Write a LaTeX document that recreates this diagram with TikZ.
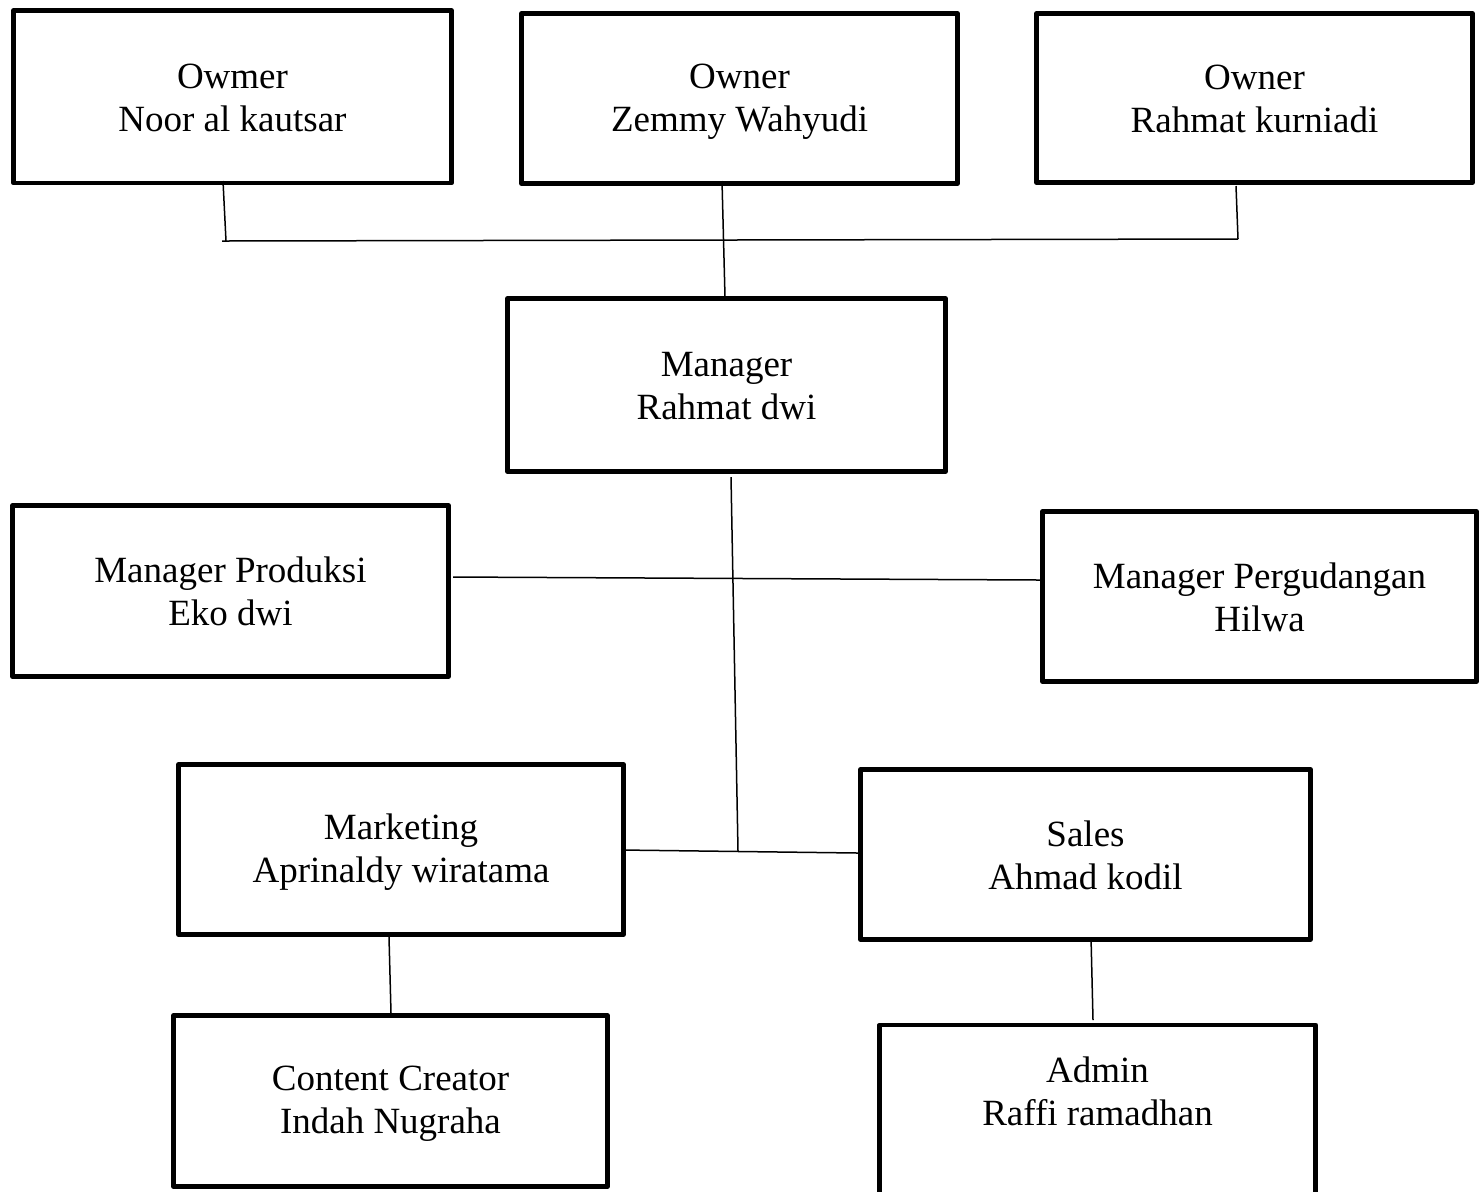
\documentclass[tikz,border=0pt]{standalone}
\usepackage{fontspec}
\setmainfont{Liberation Serif}
\newcommand\lnstrut{\rule[-2pt]{0pt}{17pt}}
\begin{document}
\begin{tikzpicture}[x=0.5pt,y=-0.5pt,
  box/.style={draw=black, line width=2.35pt, line join=round, inner sep=0pt,
    align=center, font=\fontsize{18.5}{21.5}\selectfont},
  txt/.style={inner sep=0pt, align=center, font=\fontsize{18.5}{21.5}\selectfont},
  link/.style={draw=black, line width=0.75pt}]
\useasboundingbox (0,0) rectangle (1481,1191);
\clip (0,0) rectangle (1481,1191);
% boxes
\node[box, minimum width=219pt, minimum height=86.25pt] (o1) at (232.5,96.75) {\lnstrut Owmer\\\lnstrut Noor al kautsar};
\node[box, minimum width=218pt, minimum height=85pt] (o2) at (739.5,98.5) {\lnstrut Owner\\\lnstrut Zemmy Wahyudi};
\node[box, minimum width=218pt, minimum height=84.5pt] (o3) at (1254.5,98) {\lnstrut Owner\\\lnstrut Rahmat kurniadi};
\node[box, minimum width=219pt, minimum height=86.5pt] (mgr) at (726.5,385) {\lnstrut Manager\\\lnstrut Rahmat dwi};
\node[box, minimum width=218pt, minimum height=85.5pt] (prod) at (230.5,591) {\lnstrut Manager Produksi\\\lnstrut Eko dwi};
\node[box, minimum width=217pt, minimum height=85pt] (gud) at (1259.5,596.5) {\lnstrut Manager Pergudangan\\\lnstrut Hilwa};
\node[box, minimum width=222.5pt, minimum height=85pt] (mkt) at (401,849.5) {\lnstrut Marketing\\\lnstrut Aprinaldy wiratama};
\node[box, minimum width=225pt, minimum height=85pt] (sales) at (1085.5,854.5) {\lnstrut Sales\\\lnstrut Ahmad kodil};
\node[box, minimum width=217pt, minimum height=85.5pt] (cc) at (390.5,1101) {\lnstrut Content Creator\\\lnstrut Indah Nugraha};
\node[box, minimum width=218pt, minimum height=92pt, anchor=north] (adm) at (1097.5,1022.5) {};
\node[txt] (admt) at (1097.5,1090.5) {\lnstrut Admin\\\lnstrut Raffi ramadhan};
% connector coordinates
\coordinate (a1) at (223,181);
\coordinate (a2) at (226,241);
\coordinate (bl) at (222,241);
\coordinate (br) at (1238,239);
\coordinate (c1) at (1236,186);
\coordinate (d1) at (722,181);
\coordinate (d2) at (725,297);
\coordinate (e1) at (731,477);
\coordinate (e2) at (738,851);
\coordinate (f1) at (453,577);
\coordinate (f2) at (1040,580);
\coordinate (g1) at (622,850);
\coordinate (g2) at (858,853);
\coordinate (h1) at (389,937);
\coordinate (h2) at (391,1013);
\coordinate (k1) at (1091,937);
\coordinate (k2) at (1093,1020);
% connectors
\draw[link] (a1) -- (a2);
\draw[link] (bl) -- (br);
\draw[link] (c1) -- (br);
\draw[link] (d1) -- (d2);
\draw[link] (e1) -- (e2);
\draw[link] (f1) -- (f2);
\draw[link] (g1) -- (g2);
\draw[link] (h1) -- (h2);
\draw[link] (k1) -- (k2);
\end{tikzpicture}
\end{document}
